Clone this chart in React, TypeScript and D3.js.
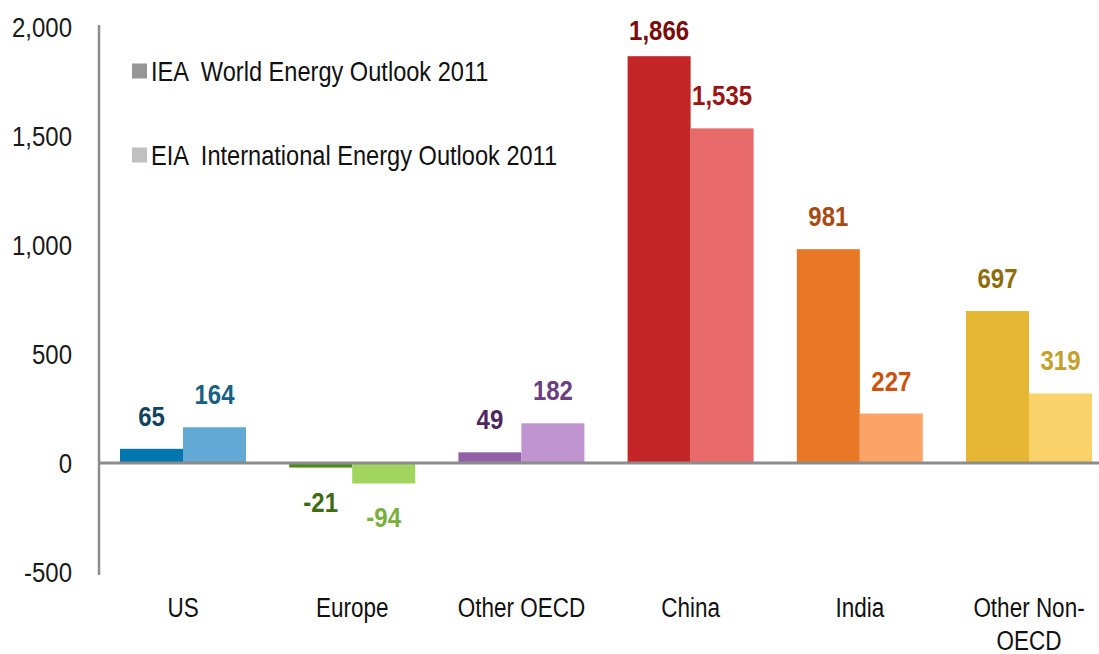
import React from "react";
import * as d3 from "d3";

const categories = ["US", "Europe", "Other OECD", "China", "India", "Other Non-OECD"];
const categoryLines = [["US"], ["Europe"], ["Other OECD"], ["China"], ["India"], ["Other Non-", "OECD"]];
const seriesNames = ["IEA  World Energy Outlook 2011", "EIA  International Energy Outlook 2011"];
const ieaValues = [65, -21, 49, 1866, 981, 697];
const eiaValues = [164, -94, 182, 1535, 227, 319];
const yTicks = [-500, 0, 500, 1000, 1500, 2000];

const barColors = [
  ["#0077AF", "#63A9D6"],
  ["#4C8A1C", "#A2D55E"],
  ["#9360A8", "#BF94CF"],
  ["#C42526", "#E76969"],
  ["#E87726", "#FCA467"],
  ["#E5B733", "#F9D36A"],
];
const labelColors = [
  ["#12435E", "#1A5F85"],
  ["#3E6B12", "#79B03C"],
  ["#4E275F", "#6B3E82"],
  ["#7A0C0C", "#9A1616"],
  ["#A84A13", "#C9530F"],
  ["#8E6E0C", "#C4A02C"],
];
const legendColors = ["#969696", "#C0C0C0"];

const W = 1099;
const H = 654;
const FONT = "'Liberation Sans', Arial, sans-serif";

export default function App() {
  const y = d3.scaleLinear().domain([-500, 2000]).range([572, 27]);
  const x = d3.scaleBand<string>().domain(categories).range([98.4, 1113.6]).paddingInner(0).paddingOuter(0);
  const inner = d3.scaleBand<number>().domain([0, 1]).range([21.6, 147.6]);
  const series = [ieaValues, eiaValues];
  const f = d3.format(",");
  const fmt = (v: number) => f(v).replace("\u2212", "-");
  const axisX = 99;

  const stretched = (
    key: string,
    tx: number,
    ty: number,
    text: string,
    opts: { size: number; sy: number; anchor: string; fill: string; weight?: string }
  ) => (
    <text
      key={key}
      transform={`translate(${tx},${ty}) scale(1,${opts.sy})`}
      fontSize={opts.size}
      fontFamily={FONT}
      fontWeight={opts.weight || "normal"}
      textAnchor={opts.anchor}
      fill={opts.fill}
      style={{ whiteSpace: "pre" }}
    >
      {text}
    </text>
  );

  return (
    <svg width={W} height={H} style={{ position: "absolute", left: 0, top: 0, background: "#fff" }}>
      {/* bars */}
      {categories.map((c, ci) =>
        series.map((vals, si) => {
          const v = vals[ci];
          const x0 = (x(c) as number) + (inner(si) as number);
          const yTop = y(Math.max(0, v));
          const yBot = y(Math.min(0, v));
          return (
            <rect
              key={`b-${ci}-${si}`}
              x={x0}
              y={yTop}
              width={inner.bandwidth()}
              height={yBot - yTop}
              fill={barColors[ci][si]}
            />
          );
        })
      )}
      {/* zero line */}
      <line x1={axisX} x2={W} y1={y(0)} y2={y(0)} stroke="#8C8C8C" strokeWidth={3} />
      {/* y axis */}
      <line x1={axisX} x2={axisX} y1={y(2000) - 2} y2={y(-500) + 3} stroke="#8C8C8C" strokeWidth={2.5} />
      {/* y tick labels */}
      {yTicks.map((t) =>
        stretched(`t-${t}`, 72, y(t) + 9.5, fmt(t), { size: 24, sy: 1.15, anchor: "end", fill: "#1a1a1a" })
      )}
      {/* category labels */}
      {categories.map((c, ci) => {
        const cx = (x(c) as number) + x.bandwidth() / 2;
        return categoryLines[ci].map((line, li) =>
          stretched(`c-${ci}-${li}`, cx, 617 + li * 33, line, {
            size: 22.5,
            sy: 1.2,
            anchor: "middle",
            fill: "#111",
          })
        );
      })}
      {/* data labels */}
      {categories.map((c, ci) =>
        series.map((vals, si) => {
          const v = vals[ci];
          const cx = (x(c) as number) + (inner(si) as number) + inner.bandwidth() / 2;
          const ty = v >= 0 ? Math.max(y(v) - 23, y(2000) + 13) : y(v) + 44;
          return stretched(`l-${ci}-${si}`, cx, ty, fmt(v), {
            size: 24,
            sy: 1.12,
            anchor: "middle",
            fill: labelColors[ci][si],
            weight: "bold",
          });
        })
      )}
      {/* legend */}
      {seriesNames.map((name, i) => {
        const cy = 71 + i * 84;
        return (
          <g key={`lg-${i}`}>
            <rect x={132} y={cy - 7.5} width={15} height={15} fill={legendColors[i]} />
            {stretched(`lt-${i}`, 151, cy + 9.5, name, { size: 23.6, sy: 1.15, anchor: "start", fill: "#111" })}
          </g>
        );
      })}
    </svg>
  );
}
